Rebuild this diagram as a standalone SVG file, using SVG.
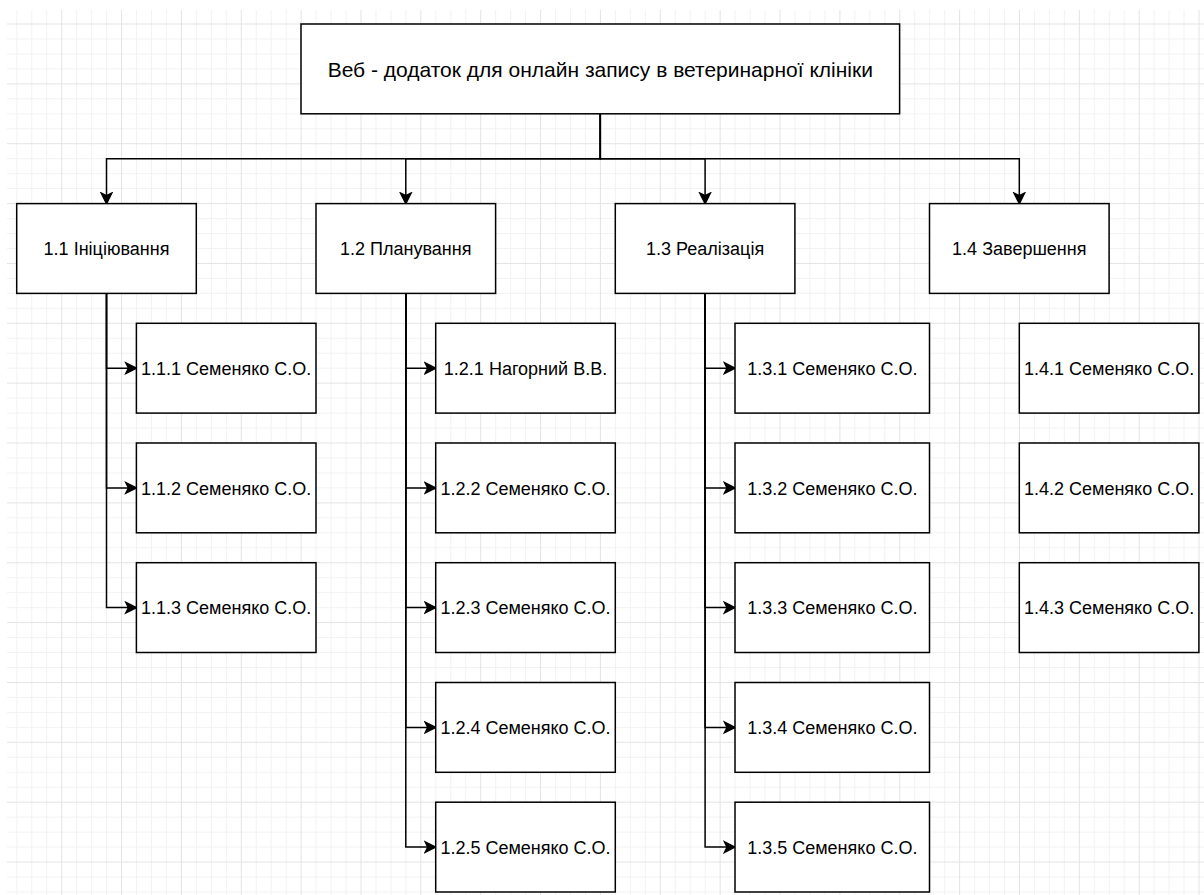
<svg xmlns="http://www.w3.org/2000/svg" width="1204" height="895" viewBox="0 0 1204 895">
  <defs>
    <pattern id="grid" patternUnits="userSpaceOnUse" x="1.34" y="23.5" width="59.86" height="59.86">
      <g fill="#f2f2f2">
        <rect x="14.965" y="0" width="1" height="59.86"/>
        <rect x="29.93" y="0" width="1" height="59.86"/>
        <rect x="44.895" y="0" width="1" height="59.86"/>
        <rect x="0" y="14.965" width="59.86" height="1"/>
        <rect x="0" y="29.93" width="59.86" height="1"/>
        <rect x="0" y="44.895" width="59.86" height="1"/>
      </g>
      <g fill="#e3e3e3">
        <rect x="0" y="0" width="1" height="59.86"/>
        <rect x="0" y="0" width="59.86" height="1"/>
      </g>
    </pattern>
    <marker id="arrow" markerUnits="userSpaceOnUse" viewBox="-12 -7 14 14" refX="0" refY="0" markerWidth="14" markerHeight="14" orient="auto">
      <path d="M0,0 L-10.5,-5.25 L-7.9,0 L-10.5,5.25 Z" fill="#000" stroke="#000" stroke-width="1.5"/>
    </marker>
    <style>
      .box { fill: #ffffff; stroke: #000000; stroke-width: 1.5; }
      .lbl { font-family: "Liberation Sans", Arial, sans-serif; font-size: 18px; fill: #000000; text-anchor: middle; }
      .title { font-size: 21px; }
      .edge { fill: none; stroke: #000000; stroke-width: 1.5; marker-end: url(#arrow); }
    </style>
  </defs>

  <rect x="0" y="0" width="1204" height="895" fill="#ffffff"/>
  <rect x="7" y="10" width="1197" height="885" fill="url(#grid)"/>

  <!-- connectors -->
  <g id="connectors">
    <path class="edge" d="M600.3,113.8 V158.7 H106.5 V203.6"/>
    <path class="edge" d="M600.3,113.8 V158.7 H405.8 V203.6"/>
    <path class="edge" d="M600.3,113.8 V158.7 H705.1 V203.6"/>
    <path class="edge" d="M600.3,113.8 V158.7 H1019.3 V203.6"/>

    <path class="edge" d="M106.5,293.4 V368.2 H136.4"/>
    <path class="edge" d="M106.5,293.4 V487.9 H136.4"/>
    <path class="edge" d="M106.5,293.4 V607.6 H136.4"/>

    <path class="edge" d="M405.8,293.4 V368.2 H435.7"/>
    <path class="edge" d="M405.8,293.4 V487.9 H435.7"/>
    <path class="edge" d="M405.8,293.4 V607.6 H435.7"/>
    <path class="edge" d="M405.8,293.4 V727.4 H435.7"/>
    <path class="edge" d="M405.8,293.4 V847.1 H435.7"/>

    <path class="edge" d="M705.1,293.4 V368.2 H735"/>
    <path class="edge" d="M705.1,293.4 V487.9 H735"/>
    <path class="edge" d="M705.1,293.4 V607.6 H735"/>
    <path class="edge" d="M705.1,293.4 V727.4 H735"/>
    <path class="edge" d="M705.1,293.4 V847.1 H735"/>
  </g>

  <!-- root -->
  <g id="root">
    <rect class="box" x="301" y="24" width="598.6" height="89.8"/>
    <text class="lbl title" x="600.3" y="77.2">Веб - додаток для онлайн запису в ветеринарної клініки</text>
  </g>

  <!-- phases -->
  <g id="n1-1">
    <rect class="box" x="16.7" y="203.6" width="179.6" height="89.8"/>
    <text class="lbl" x="106.5" y="255.2">1.1 Ініціювання</text>
  </g>
  <g id="n1-2">
    <rect class="box" x="316" y="203.6" width="179.6" height="89.8"/>
    <text class="lbl" x="405.8" y="255.2">1.2 Планування</text>
  </g>
  <g id="n1-3">
    <rect class="box" x="615.3" y="203.6" width="179.6" height="89.8"/>
    <text class="lbl" x="705.1" y="255.2">1.3 Реалізація</text>
  </g>
  <g id="n1-4">
    <rect class="box" x="929.5" y="203.6" width="179.6" height="89.8"/>
    <text class="lbl" x="1019.3" y="255.2">1.4 Завершення</text>
  </g>

  <!-- tasks of 1.1 -->
  <g id="n1-1-1">
    <rect class="box" x="136.4" y="323.3" width="179.6" height="89.8"/>
    <text class="lbl" x="226.2" y="375">1.1.1 Семеняко С.О.</text>
  </g>
  <g id="n1-1-2">
    <rect class="box" x="136.4" y="443" width="179.6" height="89.8"/>
    <text class="lbl" x="226.2" y="494.7">1.1.2 Семеняко С.О.</text>
  </g>
  <g id="n1-1-3">
    <rect class="box" x="136.4" y="562.7" width="179.6" height="89.8"/>
    <text class="lbl" x="226.2" y="614.4">1.1.3 Семеняко С.О.</text>
  </g>

  <!-- tasks of 1.2 -->
  <g id="n1-2-1">
    <rect class="box" x="435.7" y="323.3" width="179.6" height="89.8"/>
    <text class="lbl" x="525.5" y="375">1.2.1 Нагорний В.В.</text>
  </g>
  <g id="n1-2-2">
    <rect class="box" x="435.7" y="443" width="179.6" height="89.8"/>
    <text class="lbl" x="525.5" y="494.7">1.2.2 Семеняко С.О.</text>
  </g>
  <g id="n1-2-3">
    <rect class="box" x="435.7" y="562.7" width="179.6" height="89.8"/>
    <text class="lbl" x="525.5" y="614.4">1.2.3 Семеняко С.О.</text>
  </g>
  <g id="n1-2-4">
    <rect class="box" x="435.7" y="682.5" width="179.6" height="89.8"/>
    <text class="lbl" x="525.5" y="734.2">1.2.4 Семеняко С.О.</text>
  </g>
  <g id="n1-2-5">
    <rect class="box" x="435.7" y="802.2" width="179.6" height="89.8"/>
    <text class="lbl" x="525.5" y="853.9">1.2.5 Семеняко С.О.</text>
  </g>

  <!-- tasks of 1.3 (wider boxes) -->
  <g id="n1-3-1">
    <rect class="box" x="735" y="323.3" width="194.5" height="89.8"/>
    <text class="lbl" x="832.3" y="375">1.3.1 Семеняко С.О.</text>
  </g>
  <g id="n1-3-2">
    <rect class="box" x="735" y="443" width="194.5" height="89.8"/>
    <text class="lbl" x="832.3" y="494.7">1.3.2 Семеняко С.О.</text>
  </g>
  <g id="n1-3-3">
    <rect class="box" x="735" y="562.7" width="194.5" height="89.8"/>
    <text class="lbl" x="832.3" y="614.4">1.3.3 Семеняко С.О.</text>
  </g>
  <g id="n1-3-4">
    <rect class="box" x="735" y="682.5" width="194.5" height="89.8"/>
    <text class="lbl" x="832.3" y="734.2">1.3.4 Семеняко С.О.</text>
  </g>
  <g id="n1-3-5">
    <rect class="box" x="735" y="802.2" width="194.5" height="89.8"/>
    <text class="lbl" x="832.3" y="853.9">1.3.5 Семеняко С.О.</text>
  </g>

  <!-- tasks of 1.4 -->
  <g id="n1-4-1">
    <rect class="box" x="1019.3" y="323.3" width="179.6" height="89.8"/>
    <text class="lbl" x="1109.1" y="375">1.4.1 Семеняко С.О.</text>
  </g>
  <g id="n1-4-2">
    <rect class="box" x="1019.3" y="443" width="179.6" height="89.8"/>
    <text class="lbl" x="1109.1" y="494.7">1.4.2 Семеняко С.О.</text>
  </g>
  <g id="n1-4-3">
    <rect class="box" x="1019.3" y="562.7" width="179.6" height="89.8"/>
    <text class="lbl" x="1109.1" y="614.4">1.4.3 Семеняко С.О.</text>
  </g>
</svg>
